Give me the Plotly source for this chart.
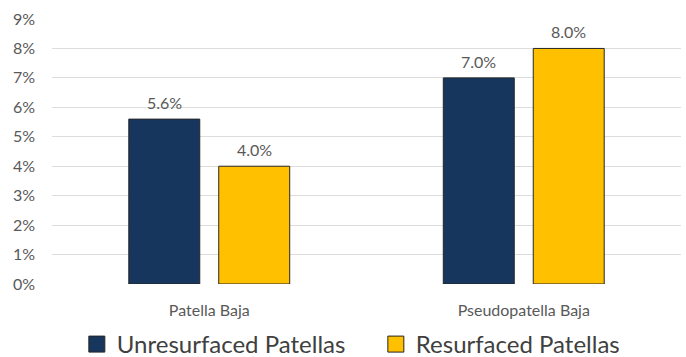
import plotly.graph_objects as go

categories = ["Patella Baja", "Pseudopatella Baja"]
unresurfaced = [5.6, 7.0]
resurfaced = [4.0, 8.0]
series_names = ["Unresurfaced Patellas", "Resurfaced Patellas"]
colors = ["#17365D", "#FFC000"]
y_ticks = list(range(0, 10))
y_tick_labels = [f"{v}%" for v in y_ticks]

FONT = "Lato, 'Open Sans', sans-serif"

fig = go.Figure()
offsets = [-45, 45]
for name, vals, col, off in zip(series_names, [unresurfaced, resurfaced], colors, offsets):
    fig.add_trace(go.Bar(
        x=categories, y=vals, name=name, showlegend=False,
        marker=dict(color=col, line=dict(color="#262626", width=1)),
    ))
    fig.add_trace(go.Scatter(
        x=[None], y=[None], mode="markers", name=name, showlegend=True,
        marker=dict(symbol="square", size=18, color=col, line=dict(color="#262626", width=1)),
    ))
    for c, v in zip(categories, vals):
        fig.add_annotation(x=c, y=v, text=f"{v:.1f}%", showarrow=False,
                           xshift=off, yshift=5, yanchor="bottom",
                           font=dict(size=16, color="#595959", family=FONT))

fig.update_layout(
    width=686, height=357,
    margin=dict(l=52, r=5, t=19, b=73, autoexpand=False),
    paper_bgcolor="white", plot_bgcolor="white",
    barmode="group", bargap=0.428, bargroupgap=0.211,
    font=dict(family=FONT, color="#595959"),
    legend=dict(orientation="h", xref="container", yref="container",
                x=0.112, xanchor="left", y=0.035, yanchor="middle",
                font=dict(size=24, color="#404040", family=FONT), itemsizing="trace",
                itemwidth=30, entrywidth=254, bgcolor="rgba(0,0,0,0)"),
)
fig.update_yaxes(range=[0, 9], tickvals=y_ticks, ticktext=y_tick_labels,
                 showgrid=True, gridcolor="#DDDDDD", gridwidth=1, zeroline=False,
                 showline=False, ticks="", tickfont=dict(size=16, color="#595959"),
                 ticklabelstandoff=16)
fig.update_xaxes(showgrid=False, showline=False, ticks="",
                 tickfont=dict(size=16, color="#595959"), ticklabelstandoff=15)

fig.write_html("out.html")
